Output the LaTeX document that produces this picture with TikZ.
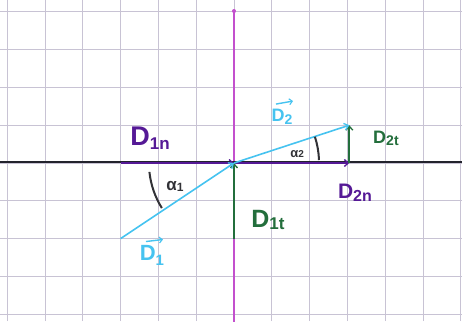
\documentclass[tikz,border=0pt]{standalone}
\usepackage{fontspec}
\setmainfont{Liberation Sans}
\usetikzlibrary{arrows.meta}
\definecolor{cyanv}{RGB}{70,195,240}
\definecolor{purplev}{RGB}{85,25,150}
\definecolor{greenv}{RGB}{35,110,60}
\definecolor{magentav}{RGB}{195,80,205}
\definecolor{gridc}{RGB}{200,195,212}
\definecolor{axisc}{RGB}{35,35,45}
\definecolor{arcc}{RGB}{50,50,55}
\tikzset{
  tip/.style={-{Straight Barb[length=4pt,width=7pt,line width=1.3pt]}},
  vecD/.style={cyanv,line width=1.6pt,tip},
  vecN/.style={purplev,line width=2.8pt,tip},
  vecT/.style={greenv,line width=1.7pt,tip},
  overarrow/.style={cyanv,line width=1.4pt,-{Straight Barb[length=3pt,width=6pt,line width=1.1pt]}},
  anglearc/.style={arcc,line width=2pt},
  lbl/.style={inner sep=0pt,font=\bfseries},
}
\begin{document}
\begin{tikzpicture}[x=37.8pt,y=37.8pt]
\useasboundingbox (-234pt,-158pt) rectangle (228pt,163pt);
\fill[white] (-234pt,-158pt) rectangle (228pt,163pt);
% grid
\foreach \i in {-6,...,6} \draw[gridc,line width=0.7pt] (\i,-158pt) -- (\i,163pt);
\foreach \j in {-4,...,4} \draw[gridc,line width=0.7pt] (-234pt,\j) -- (228pt,\j);
% coordinates
\coordinate (O) at (0,0);
\coordinate (T) at (0,4.02);
\coordinate (Bot) at (0,-4.2);
\coordinate (L) at (-234pt,0.03);
\coordinate (R) at (228pt,0.03);
\coordinate (A) at (-3,-2);
\coordinate (B) at (3.05,1);
\coordinate (C) at (-3,0);
\coordinate (E) at (3.05,0);
\coordinate (F) at (0,-2);
% magenta line
\draw[magentav,line width=1.3pt] (T) -- (Bot);
\fill[magentav] (T) circle (2pt);
% axis
\draw[axisc,line width=1.4pt] (L) -- (R);
% normal components
\draw[vecN] (C) -- (O);
\draw[vecN,line width=2.4pt] (O) -- (E);
% tangential components
\draw[vecT] (F) -- (O);
\draw[vecT] (E) -- (B);
% vectors
\draw[vecD] (A) -- (O);
\draw[vecD] (O) -- (B);
% angle arcs
\draw[anglearc] (186:2.25) arc (186:212:2.25);
\draw[anglearc] (2:2.25) arc (2:18:2.25);
% labels
\node[lbl,purplev] (l1n) at (-2.22,0.66) {\fontsize{27}{27}\selectfont D\raisebox{-0.25ex}{\fontsize{17}{17}\selectfont 1n}};
\node[lbl,purplev] (l2n) at (3.2,-0.79) {\fontsize{21}{21}\selectfont D\raisebox{-0.2ex}{\fontsize{16}{16}\selectfont 2n}};
\node[lbl,greenv] (l1t) at (0.9,-1.51) {\fontsize{25}{25}\selectfont D\raisebox{-0.2ex}{\fontsize{17}{17}\selectfont 1t}};
\node[lbl,greenv] (l2t) at (4.02,0.66) {\fontsize{18}{18}\selectfont D\raisebox{-0.2ex}{\fontsize{14}{14}\selectfont 2t}};
\node[lbl,cyanv] (l1) at (-2.17,-2.45) {\fontsize{22}{22}\selectfont D\raisebox{-0.4ex}{\fontsize{15}{15}\selectfont 1}};
\node[lbl,cyanv] (l2) at (1.27,1.22) {\fontsize{18}{18}\selectfont D\raisebox{-0.3ex}{\fontsize{14}{14}\selectfont 2}};
\draw[overarrow] ([shift={(-6pt,4pt)}]l1.north) -- ([shift={(11pt,6pt)}]l1.north);
\draw[overarrow] ([shift={(-6pt,5pt)}]l2.north) -- ([shift={(11pt,8pt)}]l2.north);
\node[lbl,arcc] (a1) at (-1.56,-0.63) {\fontsize{17}{17}\selectfont α\raisebox{-0.1ex}{\fontsize{12}{12}\selectfont 1}};
\node[lbl,arcc] (a2) at (1.67,0.24) {\fontsize{13}{13}\selectfont α\raisebox{-0.1ex}{\fontsize{10}{10}\selectfont 2}};
\end{tikzpicture}
\end{document}
